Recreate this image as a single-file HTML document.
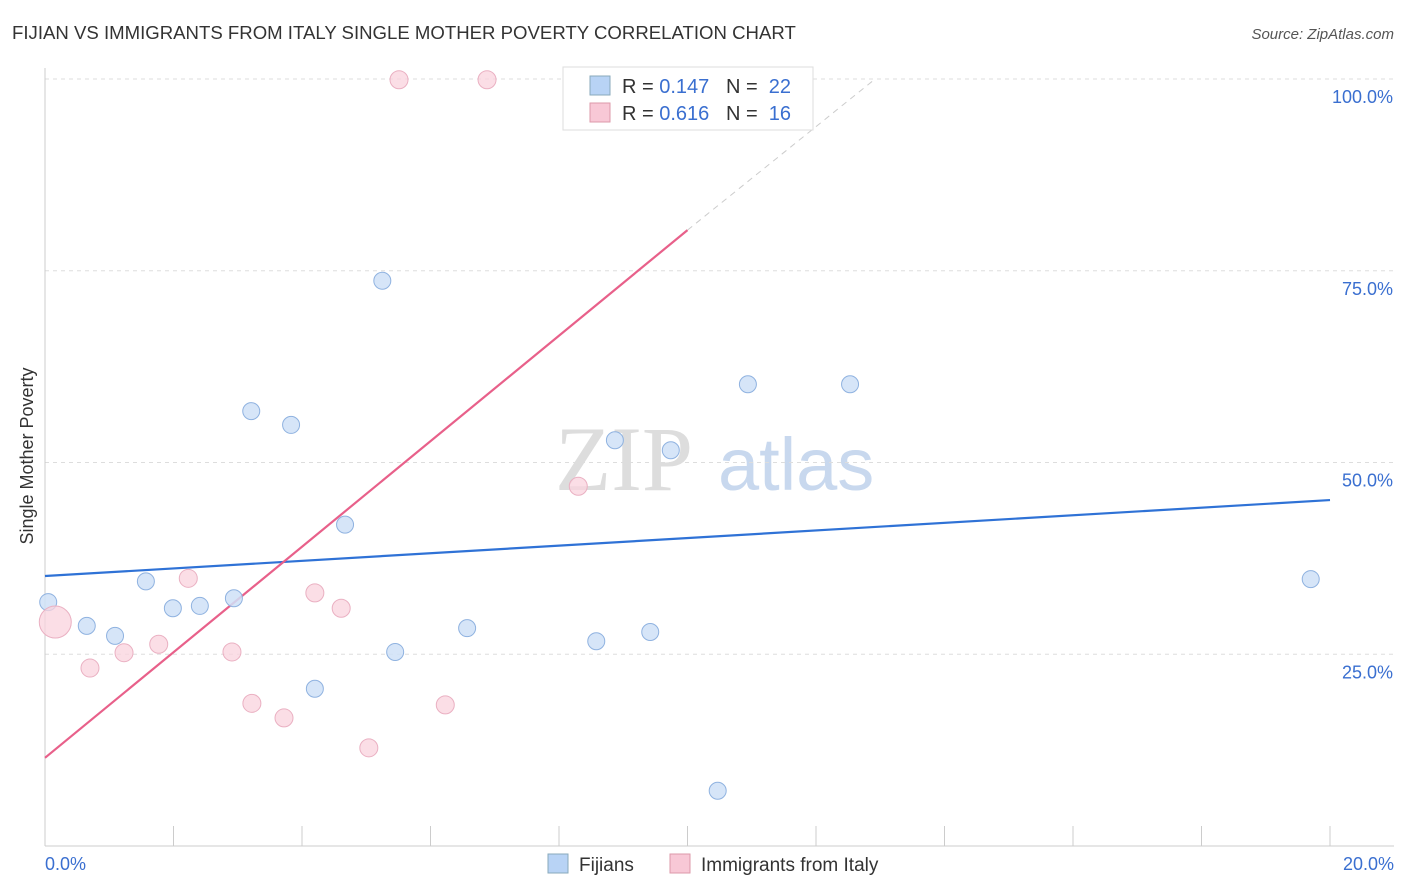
<!DOCTYPE html>
<html><head><meta charset="utf-8"><style>
body{margin:0;background:#fff;font-family:"Liberation Sans",sans-serif;}
svg{display:block}
</style></head><body>
<svg width="1406" height="892" xmlns="http://www.w3.org/2000/svg" id="chart">
<text x="12" y="39" font-size="18.6" fill="#333">FIJIAN VS IMMIGRANTS FROM ITALY SINGLE MOTHER POVERTY CORRELATION CHART</text>
<text x="1394" y="39" font-size="15" fill="#555" font-style="italic" text-anchor="end">Source: ZipAtlas.com</text>
<text x="33" y="456" font-size="18" fill="#333" text-anchor="middle" transform="rotate(-90 33 456)">Single Mother Poverty</text>
<text x="555" y="490" font-size="92" fill="#ddd" font-family="Liberation Serif">ZIP</text>
<text x="718" y="490" font-size="74" fill="#c8d8ee">atlas</text>
<g id="grid"></g>
<g id="axes"></g>
<g id="lines"></g>
<g id="points"></g>
<g>
<rect x="563" y="67" width="250" height="63" fill="#fff" stroke="#ddd"/>
<rect x="590" y="76" width="20" height="19" fill="#b8d3f5" stroke="#8ab"/>
<text x="622" y="93" font-size="20" fill="#333" xml:space="preserve">R = <tspan fill="#3a6fd0">0.147</tspan>   N =  <tspan fill="#3a6fd0">22</tspan></text>
<rect x="590" y="103" width="20" height="19" fill="#f8c8d6" stroke="#d9a"/>
<text x="622" y="120" font-size="20" fill="#333" xml:space="preserve">R = <tspan fill="#3a6fd0">0.616</tspan>   N =  <tspan fill="#3a6fd0">16</tspan></text>
</g>
<g>
<rect x="548" y="854" width="20" height="19" fill="#b8d3f5" stroke="#8ab"/>
<text x="579" y="871" font-size="19" fill="#333">Fijians</text>
<rect x="670" y="854" width="20" height="19" fill="#f8c8d6" stroke="#d9a"/>
<text x="701" y="871" font-size="19" fill="#333">Immigrants from Italy</text>
</g>
</svg>
<script>
const yTicks=[25,50,75,100];
const yTickLabels=["25.0%","50.0%","75.0%","100.0%"];
const fijiX=[0.05,0.65,1.09,1.57,1.99,2.41,2.94,3.21,3.83,4.2,4.67,5.25,5.45,6.57,8.58,8.87,9.42,9.74,10.47,10.94,12.53,19.7];
const fijiY=[31.8,28.7,27.4,34.5,31.0,31.3,32.3,56.7,54.9,20.5,41.9,73.7,25.3,28.4,26.7,52.9,27.9,51.6,7.2,60.2,60.2,34.8];
const italyX=[0.16,0.7,1.23,1.77,2.23,2.91,3.22,3.72,4.2,4.61,5.04,5.51,6.23,6.88,8.3];
const italyY=[29.2,23.2,25.2,26.3,34.9,25.3,18.6,16.7,33.0,31.0,12.8,99.9,18.4,99.9,46.9];
const italyR=[16,9,9,9,9,9,9,9,9,9,9,9,9,9,9];
const fijiLine=[[0,35.2],[20,45.1]];
const italyLine=[[0,11.5],[10,80.3]];
const italyDash=[[10,80.3],[12.92,100]];
const NS="http://www.w3.org/2000/svg";
const X=v=>45+v/20*1285, Y=v=>846-v/100*767;
function mk(tag,attrs,parent){const e=document.createElementNS(NS,tag);for(const k in attrs)e.setAttribute(k,attrs[k]);document.getElementById(parent).appendChild(e);return e;}
yTicks.forEach((t,i)=>{
 const l=mk('line',{x1:45,x2:1394,y1:Y(t),y2:Y(t),stroke:'#ddd','stroke-dasharray':'4 4'},'grid');
 
 
 const tx=mk('text',{x:1393,y:Y(t)+24,'font-size':18,fill:'#3a6fd0','text-anchor':'end'},'grid');
 tx.textContent=yTickLabels[i];
 
 
});
const ax=mk('line',{x1:45,x2:1394,y1:846,y2:846,stroke:'#ccc'},'axes');


const ay=mk('line',{x1:45,x2:45,y1:68,y2:846,stroke:'#ccc'},'axes');


for(let v=0;v<=20;v+=2){const t=mk('line',{x1:X(v),x2:X(v),y1:826,y2:846,stroke:'#ccc'},'axes');
 
 }
[[0,"0.0%",'start',45],[20,"20.0%",'end',1394]].forEach(a=>{const t=mk('text',{x:a[3],y:870,'font-size':18,fill:'#3a6fd0','text-anchor':a[2]},'axes');t.textContent=a[1];
 
 });
function line(p,st,dash,name){const l=mk('line',{x1:X(p[0][0]),y1:Y(p[0][1]),x2:X(p[1][0]),y2:Y(p[1][1]),stroke:st,'stroke-width':dash?1:2.2},'lines');if(dash)l.setAttribute('stroke-dasharray','6 5');
 
 }
line(fijiLine,'#2f72d6',false,'fijians-trend-line');
line(italyLine,'#e8608a',false,'italy-trend-line');
line(italyDash,'#ccc',true,'italy-trend-extension');
fijiX.forEach((x,i)=>{const c=mk('circle',{cx:X(x),cy:Y(fijiY[i]),r:8.5,fill:'#cfe0f7','fill-opacity':0.85,stroke:'#8fb2e0','stroke-width':1},'points');
 
 });
italyX.forEach((x,i)=>{const c=mk('circle',{cx:X(x),cy:Y(italyY[i]),r:italyR[i],fill:'#fad3de','fill-opacity':0.75,stroke:'#eab0c2','stroke-width':1},'points');
 
 });
</script>
</body></html>
